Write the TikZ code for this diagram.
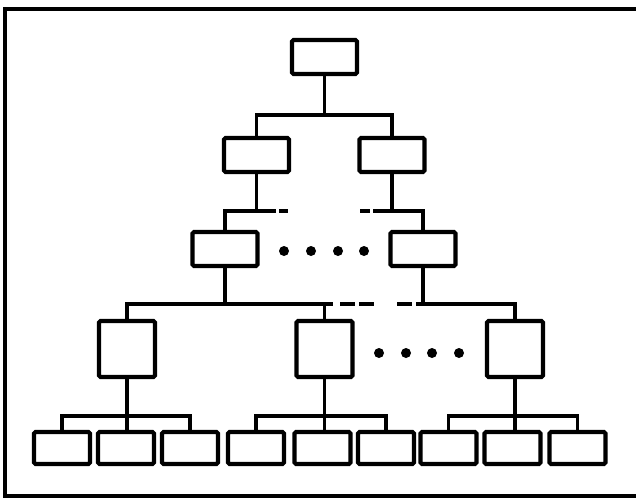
\documentclass[tikz,border=0pt]{standalone}
\begin{document}
\begin{tikzpicture}[x=1pt,y=-1pt,
  box/.style={draw,line width=4.2pt,rounded corners=1.5pt,inner sep=0pt,minimum width=#1},
  wide/.style={box=65pt,minimum height=34pt},
  sq/.style={box=56pt,minimum height=56pt},
  leaf/.style={box=56pt,minimum height=32pt},
  link/.style={line width=3.6pt},
  dotmark/.style={circle,fill=black,inner sep=0pt,minimum size=10pt},
  frame/.style={line width=3.6pt}]
\useasboundingbox (0,0) rectangle (636,498);
% frame
\coordinate (f1) at (640,9);
\coordinate (f2) at (5,9);
\coordinate (f3) at (5,496);
\coordinate (f4) at (640,496);
\draw[frame] (f1) -- (f2) -- (f3) -- (f4);
% boxes
\node[wide] (top) at (324.5,57) {};
\node[wide] (a1) at (256.5,155) {};
\node[wide] (a2) at (392,155) {};
\node[wide] (b1) at (225,249) {};
\node[wide] (b2) at (423,249) {};
\node[sq] (c1) at (127,349) {};
\node[sq] (c2) at (324.5,349) {};
\node[sq] (c3) at (515,349) {};
\foreach \i/\x in {1/62,2/126,3/190,4/256,5/322.5,6/386,7/448.5,8/512.5,9/577.5}
  \node[leaf] (d\i) at (\x,448) {};
% level 1 bus
\coordinate (j1) at (324.5,115);
\draw[link] (top.south) -- (j1);
\draw[link] (a1.north) |- (j1) -| (a2.north);
% level 2 bus with gaps
\coordinate (j2a) at (256.5,211);
\coordinate (j2b) at (392,211);
\draw[link] (a1.south) -- (j2a);
\draw[link] (a2.south) -- (j2b);
\draw[link] (j2a) -| (b1.north);
\draw[link] (j2b) -| (b2.north);
\coordinate (e1) at (266,211); \coordinate (e2) at (276,211);
\coordinate (e3) at (279,211); \coordinate (e4) at (288,211);
\coordinate (e5) at (360,211); \coordinate (e6) at (370,211);
\coordinate (e7) at (373,211); \coordinate (e8) at (384,211);
\draw[link] (j2a) -- (e1);
\draw[link] (e1) -- (e2) (e3) -- (e4) (e5) -- (e6) (e7) -- (e8);
\draw[link] (e8) -- (j2b);
% level 3 bus with gaps
\coordinate (j3a) at (225,304);
\coordinate (j3b) at (423,304);
\draw[link] (b1.south) -- (j3a);
\draw[link] (b2.south) -- (j3b);
\coordinate (g1) at (333,304);
\coordinate (g2) at (340,304); \coordinate (g3) at (355,304);
\coordinate (g4) at (359,304); \coordinate (g5) at (374,304);
\coordinate (g6) at (397,304); \coordinate (g7) at (412,304);
\coordinate (g8) at (416,304);
\draw[link] (c1.north) |- (j3a) -- (g1);
\draw[link] (c2.north) -- (c2.north |- j3a);
\draw[link] (g2) -- (g3) (g4) -- (g5) (g6) -- (g7);
\draw[link] (g8) -- (j3b) -| (c3.north);
% leaf buses
\coordinate (k1) at (127,416);
\coordinate (k2) at (324.5,416);
\coordinate (k3) at (515,416);
\draw[link] (c1.south) -- (c1.south |- d2.north);
\draw[link] (d1.north) |- (k1) -| (d3.north);
\draw[link] (c2.south) -- (c2.south |- d5.north);
\draw[link] (d4.north) |- (k2) -| (d6.north);
\draw[link] (c3.south) -- (c3.south |- d8.north);
\draw[link] (d7.north) |- (k3) -| (d9.north);
% dots
\foreach \i/\x in {1/284,2/311,3/338,4/364}
  \node[dotmark] (p\i) at (\x,251) {};
\foreach \i/\x in {1/379,2/406,3/432,4/459}
  \node[dotmark] (q\i) at (\x,353) {};
\end{tikzpicture}
\end{document}
